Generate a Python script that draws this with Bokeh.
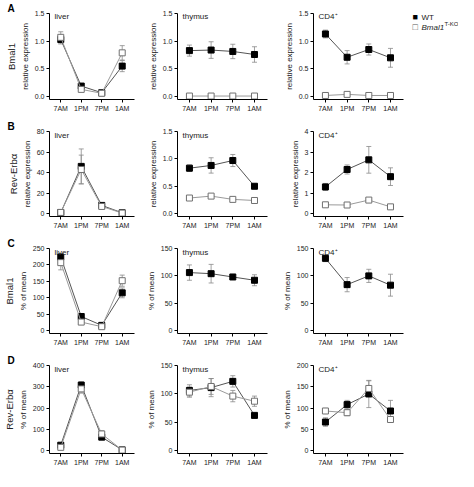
from bokeh.plotting import figure
from bokeh.layouts import gridplot
from bokeh.models import (Range1d, FixedTicker, PrintfTickFormatter, Whisker, TeeHead,
                          ColumnDataSource, Label, Title)
from bokeh.embed import file_html
from bokeh.resources import INLINE

FONT = "Liberation Sans"
times = ["7AM", "1PM", "7PM", "1AM"]

# ---- Row A: Bmal1, relative expression ----
a_liver_wt = [1.03, 0.19, 0.07, 0.55]
a_liver_wt_err = [0.08, 0.03, 0.02, 0.10]
a_liver_ko = [1.07, 0.13, 0.06, 0.79]
a_liver_ko_err = [0.10, 0.02, 0.01, 0.13]
a_thy_wt = [0.83, 0.84, 0.815, 0.76]
a_thy_wt_err = [0.10, 0.15, 0.13, 0.14]
a_thy_ko = [0.01, 0.01, 0.01, 0.01]
a_thy_ko_err = [0.005, 0.005, 0.005, 0.005]
a_cd4_wt = [1.13, 0.71, 0.85, 0.70]
a_cd4_wt_err = [0.07, 0.12, 0.10, 0.17]
a_cd4_ko = [0.02, 0.04, 0.02, 0.02]
a_cd4_ko_err = [0.01, 0.01, 0.01, 0.01]

# ---- Row B: Rev-Erb alpha, relative expression ----
b_liver_wt = [1.0, 46, 8, 0.8]
b_liver_wt_err = [0.3, 17, 2, 0.3]
b_liver_ko = [1.2, 43, 7, 0.5]
b_liver_ko_err = [0.3, 14, 2, 0.2]
b_thy_wt = [0.83, 0.88, 0.97, 0.50]
b_thy_wt_err = [0.06, 0.14, 0.11, 0.04]
b_thy_ko = [0.285, 0.32, 0.26, 0.24]
b_thy_ko_err = [0.02, 0.03, 0.02, 0.02]
b_cd4_wt = [1.30, 2.15, 2.62, 1.80]
b_cd4_wt_err = [0.17, 0.22, 0.65, 0.43]
b_cd4_ko = [0.43, 0.42, 0.66, 0.33]
b_cd4_ko_err = [0.03, 0.04, 0.05, 0.04]

# ---- Row C: Bmal1, % of mean ----
c_liver_wt = [224, 43, 16, 115]
c_liver_wt_err = [10, 4, 3, 15]
c_liver_ko = [207, 26, 12, 152]
c_liver_ko_err = [22, 4, 3, 17]
c_thy_wt = [106, 104, 98, 92]
c_thy_wt_err = [14, 17, 4, 10]
c_cd4_wt = [132, 84, 100, 83]
c_cd4_wt_err = [6, 13, 12, 20]

# ---- Row D: Rev-Erb alpha, % of mean ----
d_liver_wt = [25, 308, 63, 3]
d_liver_wt_err = [5, 15, 8, 1]
d_liver_ko = [15, 290, 78, 2]
d_liver_ko_err = [4, 20, 15, 1]
d_thy_wt = [106, 111, 122, 62]
d_thy_wt_err = [10, 16, 10, 3]
d_thy_ko = [103, 113, 96, 87]
d_thy_ko_err = [9, 14, 10, 9]
d_cd4_wt = [67, 108, 133, 93]
d_cd4_wt_err = [10, 10, 32, 25]
d_cd4_ko = [93, 89, 146, 73]
d_cd4_ko_err = [6, 7, 18, 5]

ticks_rel = [0, 0.5, 1.0, 1.5]
ticks_b_liver = [0, 20, 40, 60, 80]
ticks_b_cd4 = [0, 1, 2, 3, 4]
ticks_c_liver = [0, 50, 100, 150, 200, 250]
ticks_150 = [0, 50, 100, 150]
ticks_d_liver = [0, 100, 200, 300, 400]
ticks_d_cd4 = [0, 50, 100, 150, 200]

tissues = ["liver", "thymus", "CD4\u207a"]
letters = ["A", "B", "C", "D"]
genes = ["Bmal1", "Rev-Erb\u03b1", "Bmal1", "Rev-Erb\u03b1"]
ylabels = ["relative expression", "relative expression", "% of mean", "% of mean"]
legend_labels = ["WT", "Bmal1", "T-KO"]

panels = [
    [(a_liver_wt, a_liver_wt_err, a_liver_ko, a_liver_ko_err, ticks_rel, "%.1f"),
     (a_thy_wt, a_thy_wt_err, a_thy_ko, a_thy_ko_err, ticks_rel, "%.1f"),
     (a_cd4_wt, a_cd4_wt_err, a_cd4_ko, a_cd4_ko_err, ticks_rel, "%.1f")],
    [(b_liver_wt, b_liver_wt_err, b_liver_ko, b_liver_ko_err, ticks_b_liver, "%d"),
     (b_thy_wt, b_thy_wt_err, b_thy_ko, b_thy_ko_err, ticks_rel, "%.1f"),
     (b_cd4_wt, b_cd4_wt_err, b_cd4_ko, b_cd4_ko_err, ticks_b_cd4, "%d")],
    [(c_liver_wt, c_liver_wt_err, c_liver_ko, c_liver_ko_err, ticks_c_liver, "%d"),
     (c_thy_wt, c_thy_wt_err, None, None, ticks_150, "%d"),
     (c_cd4_wt, c_cd4_wt_err, None, None, ticks_150, "%d")],
    [(d_liver_wt, d_liver_wt_err, d_liver_ko, d_liver_ko_err, ticks_d_liver, "%d"),
     (d_thy_wt, d_thy_wt_err, d_thy_ko, d_thy_ko_err, ticks_150, "%d"),
     (d_cd4_wt, d_cd4_wt_err, d_cd4_ko, d_cd4_ko_err, ticks_d_cd4, "%d")],
]

# layout geometry
FW = 90
row_fh = [87, 85, 85, 88]
row_top = [12, 14, 14, 14]
BOTTOM = 18
col_left = [44, 37, 40]
col_right = [6, 6, 4]
LEG_W = 458 - sum(l + FW + r for l, r in zip(col_left, col_right))

TXT = "#222222"
WT_LINE = "#555555"
KO_LINE = "#9a9a9a"
ERR = "#8a8a8a"


def add_series(p, vals, errs, filled):
    xs = list(range(len(times)))
    src = ColumnDataSource(dict(x=xs, y=vals,
                                lo=[v - e for v, e in zip(vals, errs)],
                                hi=[v + e for v, e in zip(vals, errs)]))
    w = Whisker(source=src, base="x", upper="hi", lower="lo", dimension="height",
                line_color=ERR, line_width=0.8,
                upper_head=TeeHead(size=5, line_color=ERR, line_width=0.8),
                lower_head=TeeHead(size=5, line_color=ERR, line_width=0.8))
    p.add_layout(w)
    p.line("x", "y", source=src, line_color=WT_LINE if filled else KO_LINE, line_width=1)
    if filled:
        p.scatter("x", "y", source=src, marker="square", size=6,
                  fill_color="black", line_color="black")
    else:
        p.scatter("x", "y", source=src, marker="square", size=6,
                  fill_color="white", line_color="#707070", line_width=1)


rows = []
for ri in range(4):
    row = []
    FH = row_fh[ri]
    for ci in range(3):
        wt, wte, ko, koe, ticks, fmt = panels[ri][ci]
        top = ticks[-1]
        p = figure(width=col_left[ci] + FW + col_right[ci],
                   height=row_top[ri] + FH + BOTTOM,
                   x_range=Range1d(-0.55, 3.6), y_range=Range1d(-0.035 * top, top),
                   output_backend="svg", toolbar_location=None,
                   min_border_left=col_left[ci], min_border_right=col_right[ci],
                   min_border_top=row_top[ri], min_border_bottom=BOTTOM)
        p.outline_line_color = None
        p.xgrid.visible = False
        p.ygrid.visible = False
        for ax in (p.xaxis[0], p.yaxis[0]):
            ax.axis_line_color = "black"
            ax.axis_line_width = 1
            ax.major_tick_line_color = "black"
            ax.major_tick_out = 3
            ax.major_tick_in = 0
            ax.minor_tick_line_color = None
            ax.major_label_text_font = FONT
            ax.major_label_text_font_size = "7px"
            ax.major_label_text_color = TXT
            ax.major_label_standoff = 2
        p.xaxis.ticker = FixedTicker(ticks=list(range(len(times))))
        p.xaxis.major_label_overrides = {i: t for i, t in enumerate(times)}
        p.yaxis.ticker = FixedTicker(ticks=ticks)
        p.yaxis.formatter = PrintfTickFormatter(format=fmt)
        p.yaxis.axis_label = ylabels[ri]
        p.yaxis.axis_label_text_font = FONT
        p.yaxis.axis_label_text_font_size = "8px"
        p.yaxis.axis_label_text_font_style = "normal"
        p.yaxis.axis_label_text_color = TXT
        p.yaxis.axis_label_standoff = 2

        add_series(p, wt, wte, True)
        if ko is not None:
            add_series(p, ko, koe, False)

        p.add_layout(Label(x=5, y=FH + 1, x_units="screen", y_units="screen",
                           text=tissues[ci], text_font=FONT, text_font_size="8px",
                           text_color=TXT, text_baseline="top"))
        if ci == 0:
            p.add_layout(Title(text=genes[ri], align="center", text_font=FONT,
                               text_font_size="9.5px", text_font_style="normal",
                               text_color=TXT, standoff=2), "left")
            p.add_layout(Title(text=letters[ri], align="left", offset=-col_left[0] + 2,
                               text_font=FONT, text_font_size="10px",
                               text_font_style="bold", text_color="black",
                               standoff=0), "above")
        row.append(p)
    rows.append(row)

# legend panel (top right): frame aligned with the row-A frames, pixel-sized data units
LFH = row_fh[0]
leg = figure(width=LEG_W, height=row_top[0] + LFH + BOTTOM, x_range=Range1d(0, LEG_W),
             y_range=Range1d(0, LFH), output_backend="svg", toolbar_location=None,
             x_axis_type=None, y_axis_type=None,
             min_border_left=0, min_border_right=0,
             min_border_top=row_top[0], min_border_bottom=BOTTOM)
leg.outline_line_color = None
leg.xgrid.visible = False
leg.ygrid.visible = False
legend_rows = [
    ("\u25a0", "black", legend_labels[0], "normal", LFH - 4),
    ("\u25a1", "#555555", legend_labels[1], "italic", LFH - 14),
]
for sym, col, lab, style, yy in legend_rows:
    leg.add_layout(Label(x=5, y=yy, text=sym, text_font=FONT, text_font_size="9px",
                         text_color=col, text_baseline="middle"))
    leg.add_layout(Label(x=14, y=yy, text=lab, text_font=FONT, text_font_size="8px",
                         text_font_style=style, text_color=TXT, text_baseline="middle"))
leg.add_layout(Label(x=37, y=LFH - 11, text=legend_labels[2], text_font=FONT,
                     text_font_size="6px", text_color=TXT, text_baseline="middle"))
rows[0].append(leg)
for r in rows[1:]:
    r.append(None)

grid = gridplot(rows, toolbar_location=None)
open("out.html", "w").write(file_html(grid, INLINE))
